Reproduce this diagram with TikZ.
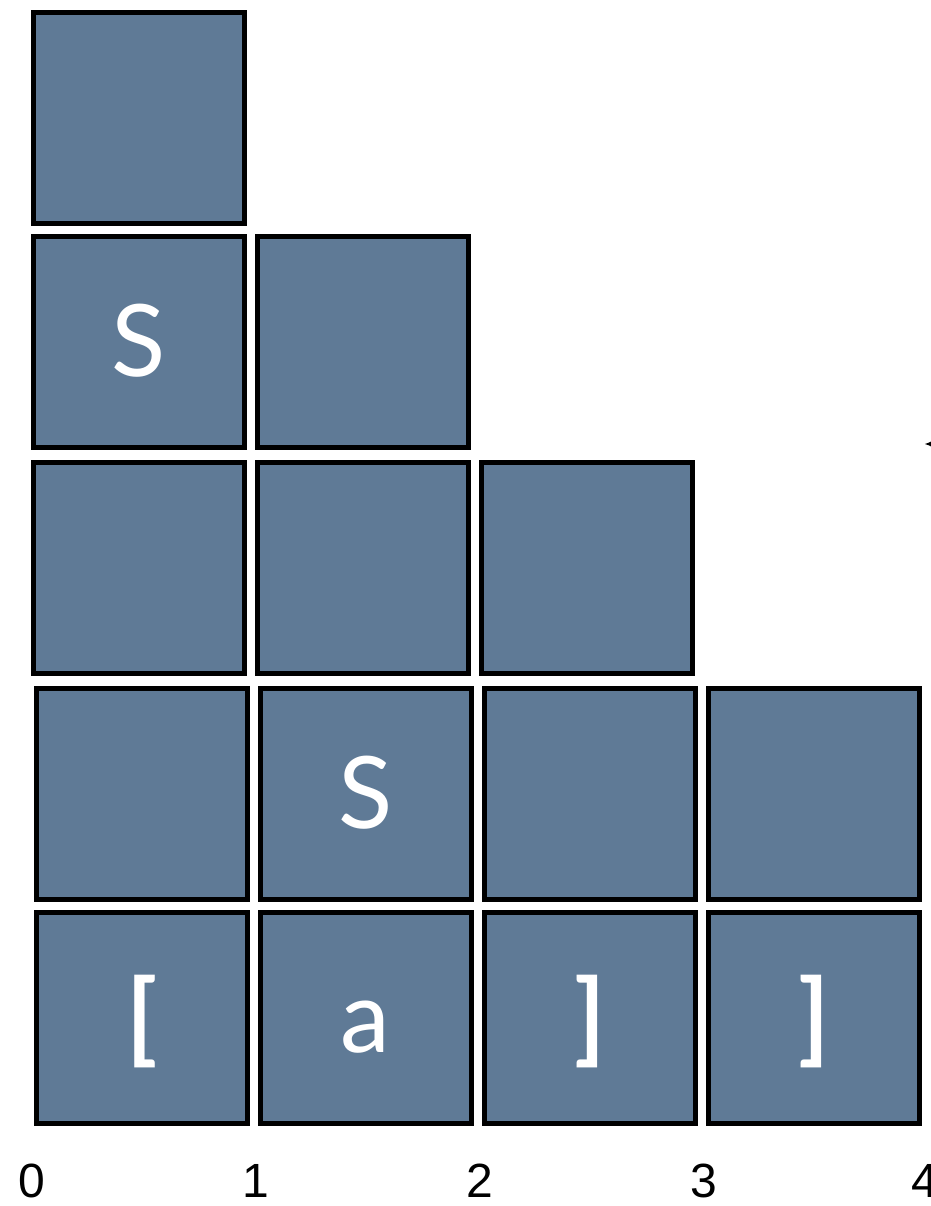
\documentclass[tikz,border=0pt]{standalone}
\usepackage{fontspec}
\newfontfamily\cellfont{Lato}
\newfontfamily\axisfont{Liberation Sans}
\usetikzlibrary{arrows.meta}
\definecolor{cellblue}{RGB}{95,122,150}
\begin{document}
\begin{tikzpicture} [x = 224pt, y = 224pt,
  cell/.style = {draw = black, line width = 5pt, fill = cellblue, minimum size = 211pt, inner sep = 0pt,
    text = white, font = \cellfont\fontsize{100}{100}\selectfont, text height = 70pt, text depth = 0pt},
  tick/.style = {font = \axisfont\fontsize{48}{48}\selectfont, anchor = base, inner sep = 0pt, text depth = 0pt}]
\useasboundingbox (-32pt,-76pt) rectangle (898pt,1130pt);
% top three rows
\node [cell] (c15) at (0.478,4.52) {};
\node [cell] (c14) at (0.478,3.52) {S};
\node [cell] (c24) at (1.478,3.52) {};
\node [cell] (c13) at (0.478,2.51) {};
\node [cell] (c23) at (1.478,2.51) {};
\node [cell] (c33) at (2.478,2.51) {};
% bottom two rows
\node [cell] (c12) at (0.49,1.5) {};
\node [cell] (c22) at (1.49,1.5) {S};
\node [cell] (c32) at (2.49,1.5) {};
\node [cell] (c42) at (3.49,1.5) {};
\node [cell] (c11) at (0.49,0.5) {\bfseries [};
\node [cell] (c21) at (1.49,0.5) {a};
\node [cell] (c31) at (2.49,0.5) {\bfseries ]};
\node [cell] (c41) at (3.49,0.5) {\bfseries ]};
% positions
\node [tick] (t0) at (0,-0.3) {0};
\node [tick] (t1) at (1,-0.3) {1};
\node [tick] (t2) at (2,-0.3) {2};
\node [tick] (t3) at (3,-0.3) {3};
\node [tick] (t4) at (3.985,-0.3) {4};
\coordinate (from) at (4.4,3.0625);
\coordinate (to) at (3.985,3.0625);
\draw [line width = 1.5pt, -{Latex[length = 10pt, width = 9pt]}] (from) -- (to);
\end{tikzpicture}
\end{document}
